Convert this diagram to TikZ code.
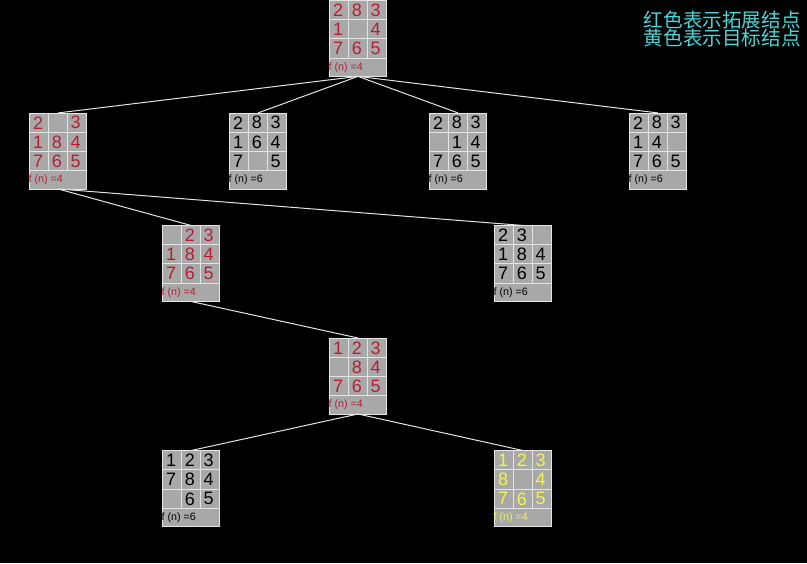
\documentclass[tikz,border=0pt]{standalone}
\usepackage{fontspec}
\setmainfont{Liberation Sans}
\newfontfamily\cjk{Noto Sans CJK SC}
\usetikzlibrary{positioning}
\definecolor{boardGray}{RGB}{168,168,168}
\definecolor{gridGray}{RGB}{228,228,228}
\definecolor{redText}{RGB}{180,32,48}
\definecolor{yellowText}{RGB}{245,245,70}
\definecolor{cyanText}{RGB}{70,215,215}
\tikzstyle{boardNode} = [rectangle, minimum width=42.3pt, minimum height=57pt, inner sep=0pt, outer sep=0pt, fill=boardGray, draw=gridGray, line width=0.6pt]
\tikzstyle{gridLine} = [draw=gridGray, line width=0.6pt]
\tikzstyle{digit} = [inner sep=0pt, font=\fontsize{13.5}{13.5}\selectfont]
\tikzstyle{fLabel} = [inner sep=0pt, font=\fontsize{8}{8}\selectfont]
\tikzstyle{edgeLine} = [draw=gridGray, line width=0.75pt]
\tikzstyle{legendText} = [inner sep=0pt, align=left, text=cyanText, font=\cjk\fontsize{14.7}{13.6}\selectfont]

% #1 name, #2 placement, #3 text colour, #4 the nine tiles, #5 f value
\newcommand{\board}[5]{%
  \node (#1) [boardNode, #2] {};
  \foreach \i in {1,2}
    \draw [gridLine] ([xshift=\i*14.1pt]#1.north west) -- ++(0,-43.2pt);
  \foreach \j in {1,2,3}
    \draw [gridLine] ([yshift=-\j*14.4pt]#1.north west) -- ++(42.3pt,0);
  \foreach \d [count=\k from 0] in {#4} {
    \pgfmathtruncatemacro\row{\k/3}
    \pgfmathtruncatemacro\col{mod(\k,3)}
    \node (#1-\k) [digit, text=#3, xshift=\col*14.1pt+6.2pt, yshift=-\row*14.4pt-7.4pt] at (#1.north west) {\d};
  }
  \node (#1-f) [fLabel, text=#3, anchor=west, xshift=-1pt, yshift=6.8pt] at (#1.south west) {f (n) =#5};
}

\begin{document}
\begin{tikzpicture}[x=0.75pt, y=-0.75pt, node distance=84.4pt]
    \fill [black] (0,0) rectangle (807,563);

    \board{root}{at={(358,38)}}{redText}{2,8,3,1,{},4,7,6,5}{4}
    \board{a1}{below of=root, xshift=-225pt}{redText}{2,{},3,1,8,4,7,6,5}{4}
    \board{a2}{below of=root, xshift=-75pt}{black}{2,8,3,1,6,4,7,{},5}{6}
    \board{a3}{below of=root, xshift=75pt}{black}{2,8,3,{},1,4,7,6,5}{6}
    \board{a4}{below of=root, xshift=225pt}{black}{2,8,3,1,4,{},7,6,5}{6}
    \board{b1}{below of=a1, xshift=99.75pt}{redText}{{},2,3,1,8,4,7,6,5}{4}
    \board{b2}{below of=a1, xshift=348.75pt}{black}{2,3,{},1,8,4,7,6,5}{6}
    \board{c1}{below of=b1, xshift=125.25pt}{redText}{1,2,3,{},8,4,7,6,5}{4}
    \board{d1}{below of=c1, xshift=-125.25pt}{black}{1,2,3,7,8,4,{},6,5}{6}
    \board{d2}{below of=c1, xshift=123.75pt}{yellowText}{1,2,3,8,{},4,7,6,5}{4}

    \draw [edgeLine] (root.south) -- (a1.north);
    \draw [edgeLine] (root.south) -- (a2.north);
    \draw [edgeLine] (root.south) -- (a3.north);
    \draw [edgeLine] (root.south) -- (a4.north);
    \draw [edgeLine] (a1.south) -- (b1.north);
    \draw [edgeLine] (a1.south) -- (b2.north);
    \draw [edgeLine] (b1.south) -- (c1.north);
    \draw [edgeLine] (c1.south) -- (d1.north);
    \draw [edgeLine] (c1.south) -- (d2.north);

    \node (legend) [legendText, anchor=north east] at (801,10) {红色表示拓展结点\\黄色表示目标结点};
\end{tikzpicture}
\end{document}
